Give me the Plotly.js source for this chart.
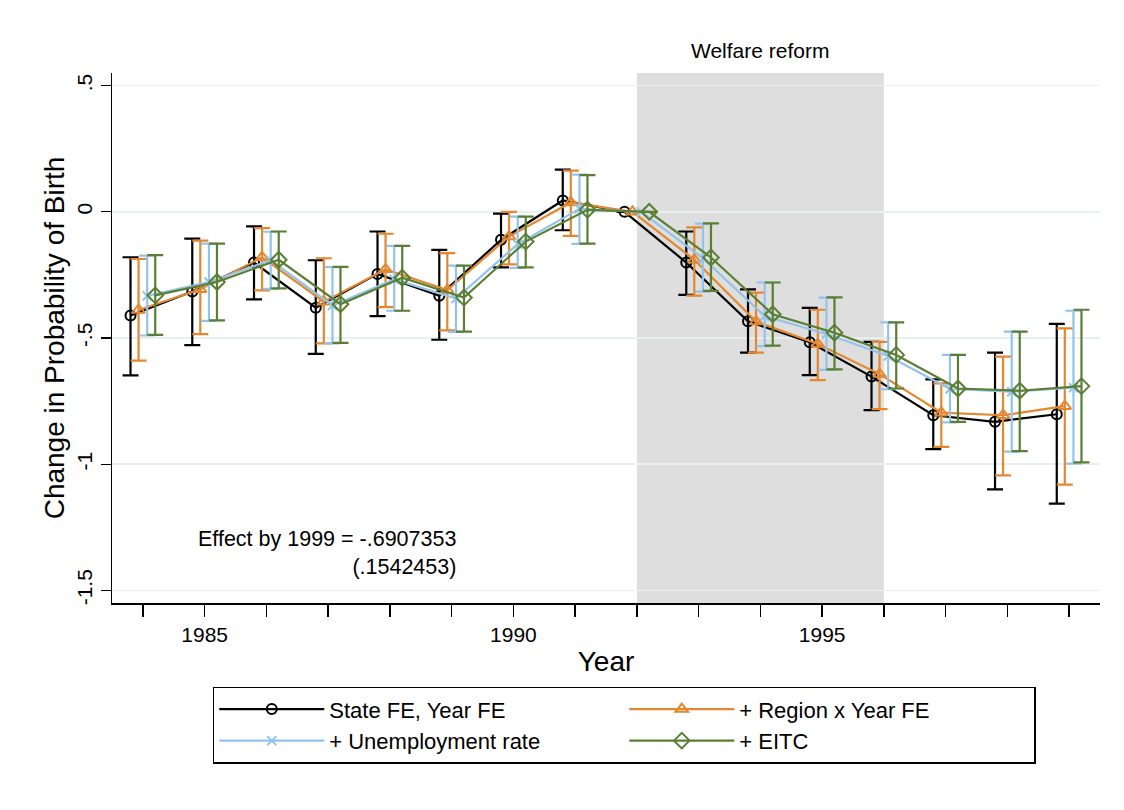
<!DOCTYPE html>
<html>
<head>
<meta charset="utf-8">
<script src="https://cdn.plot.ly/plotly-3.0.1.min.js"></script>
<style>
  html, body { margin: 0; padding: 0; background: #ffffff; }
  #chart { width: 1124px; height: 810px; }
</style>
</head>
<body>
<div id="chart"></div>
<script>
// ---- Data ----
const years = [1984, 1985, 1986, 1987, 1988, 1989, 1990, 1991, 1992, 1993, 1994, 1995, 1996, 1997, 1998, 1999];

const seriesNames = ["State FE, Year FE", "+ Region x Year FE", "+ Unemployment rate", "+ EITC"];

const stateFE     = [-0.411, -0.316, -0.201, -0.380, -0.246, -0.333, -0.111, 0.045, 0, -0.201, -0.434, -0.517, -0.653, -0.806, -0.832, -0.802];
const stateFE_lo  = [-0.648, -0.528, -0.347, -0.563, -0.413, -0.507, -0.220, -0.073, null, -0.329, -0.558, -0.647, -0.786, -0.940, -1.100, -1.156];
const stateFE_hi  = [-0.180, -0.106, -0.058, -0.192, -0.078, -0.151, -0.007, 0.167, null, -0.078, -0.307, -0.381, -0.515, -0.664, -0.558, -0.444];

const regionFE    = [-0.389, -0.307, -0.180, -0.356, -0.228, -0.310, -0.098, 0.037, 0, -0.190, -0.435, -0.524, -0.643, -0.796, -0.806, -0.770];
const regionFE_lo = [-0.590, -0.485, -0.311, -0.521, -0.378, -0.470, -0.208, -0.095, null, -0.332, -0.558, -0.667, -0.782, -0.931, -1.044, -1.081];
const regionFE_hi = [-0.187, -0.114, -0.065, -0.184, -0.087, -0.164, 0.000, 0.163, null, -0.062, -0.320, -0.388, -0.515, -0.680, -0.574, -0.462];

const unemp       = [-0.333, -0.278, -0.192, -0.371, -0.268, -0.344, -0.128, 0.012, 0, -0.184, -0.413, -0.484, -0.571, -0.702, -0.713, -0.697];
const unemp_lo    = [-0.490, -0.432, -0.305, -0.521, -0.392, -0.476, -0.222, -0.127, null, -0.316, -0.532, -0.626, -0.703, -0.834, -0.950, -0.998];
const unemp_hi    = [-0.174, -0.126, -0.079, -0.219, -0.135, -0.213, -0.019, 0.147, null, -0.047, -0.280, -0.340, -0.438, -0.567, -0.475, -0.392];

const eitc        = [-0.331, -0.278, -0.190, -0.366, -0.261, -0.340, -0.118, 0.008, 0, -0.181, -0.406, -0.479, -0.567, -0.700, -0.709, -0.6907353];
const eitc_lo     = [-0.488, -0.430, -0.303, -0.519, -0.392, -0.475, -0.220, -0.126, null, -0.313, -0.530, -0.624, -0.700, -0.832, -0.948, -0.993];
const eitc_hi     = [-0.172, -0.126, -0.078, -0.218, -0.135, -0.213, -0.019, 0.145, null, -0.046, -0.280, -0.339, -0.438, -0.567, -0.475, -0.388];

const effect1999 = "-.6907353";
const se1999 = ".1542453";

const reformStart = 1992;
const reformEnd = 1996;

const yTickVals = [-1.5, -1, -0.5, 0, 0.5];
const yTickText = ["-1.5", "-1", "-.5", "0", ".5"];
const xLabeled = { 1985: "1985", 1990: "1990", 1995: "1995" };

// ---- Styling ----
const FONT = "Liberation Sans, Arial, Helvetica, sans-serif";
const offsets = [-0.2, -0.07, 0.07, 0.2];
const colors = ["#000000", "#E4872F", "#93C3EA", "#5A7E33"];
const symbols = ["circle-open", "triangle-up-open", "x-thin-open", "diamond-open"];
const sizes = [10, 11, 9, 12];

const values = [stateFE, regionFE, unemp, eitc];
const lows = [stateFE_lo, regionFE_lo, unemp_lo, eitc_lo];
const highs = [stateFE_hi, regionFE_hi, unemp_hi, eitc_hi];

const traces = values.map((vals, k) => ({
  type: "scatter",
  mode: "lines+markers",
  name: seriesNames[k],
  x: years.map(y => y + offsets[k]),
  y: vals,
  line: { color: colors[k], width: 2.2 },
  marker: { symbol: symbols[k], size: sizes[k], color: colors[k], line: { color: colors[k], width: 2 } },
  error_y: {
    type: "data",
    symmetric: false,
    array: vals.map((v, i) => highs[k][i] == null ? null : highs[k][i] - v),
    arrayminus: vals.map((v, i) => lows[k][i] == null ? null : v - lows[k][i]),
    color: colors[k],
    thickness: 2.2,
    width: 8
  },
  hoverinfo: "x+y"
}));

const layout = {
  width: 1124,
  height: 810,
  paper_bgcolor: "#ffffff",
  plot_bgcolor: "#ffffff",
  font: { family: FONT, color: "#000000", size: 21 },
  margin: { l: 112, r: 24, t: 73, b: 207, autoexpand: false },
  showlegend: true,
  xaxis: {
    range: [1983.5, 1999.5],
    tickvals: years,
    ticktext: years.map(y => xLabeled[y] || ""),
    ticks: "outside",
    ticklen: 12,
    tickwidth: 1.3,
    tickcolor: "#000000",
    showline: true,
    linecolor: "#000000",
    linewidth: 1.5,
    showgrid: false,
    zeroline: false,
    tickfont: { family: FONT, size: 21, color: "#000000" },
    title: { text: "Year", font: { family: FONT, size: 28, color: "#000000" }, standoff: 6 },
    fixedrange: true
  },
  yaxis: {
    range: [-1.55, 0.55],
    tickvals: yTickVals,
    ticktext: yTickText,
    tickangle: -90,
    ticks: "outside",
    ticklen: 10,
    tickwidth: 1.3,
    tickcolor: "#000000",
    showline: true,
    linecolor: "#000000",
    linewidth: 1.5,
    showgrid: true,
    gridcolor: "#E8EFF1",
    gridwidth: 1.5,
    zeroline: false,
    tickfont: { family: FONT, size: 21, color: "#000000" },
    title: { text: "Change in Probability of Birth", font: { family: FONT, size: 28, color: "#000000" }, standoff: 0 },
    fixedrange: true
  },
  shapes: [{
    type: "rect",
    xref: "x", yref: "paper",
    x0: reformStart, x1: reformEnd, y0: 0, y1: 1,
    fillcolor: "#DEDEDE",
    line: { width: 0 },
    layer: "between"
  }],
  annotations: [
    {
      xref: "x", yref: "paper",
      x: (reformStart + reformEnd) / 2, y: 1,
      xanchor: "center", yanchor: "bottom", yshift: 9,
      text: "Welfare reform",
      showarrow: false,
      font: { family: FONT, size: 21, color: "#000000" }
    },
    {
      xref: "paper", yref: "paper",
      x: 0.350, y: 0.095,
      xanchor: "right", yanchor: "middle",
      align: "right",
      text: "Effect by 1999 = " + effect1999 + "<br>(" + se1999 + ")",
      showarrow: false,
      font: { family: FONT, size: 21.5, color: "#000000" }
    }
  ],
  legend: {
    orientation: "h",
    x: 0.102, xanchor: "left",
    y: -0.158, yanchor: "top",
    bordercolor: "#000000",
    borderwidth: 1.5,
    bgcolor: "#ffffff",
    font: { family: FONT, size: 22, color: "#000000" },
    itemwidth: 105,
    entrywidth: 290,
    entrywidthmode: "pixels",
    traceorder: "normal"
  }
};

Plotly.newPlot("chart", traces, layout, { staticPlot: true, displayModeBar: false });
</script>
</body>
</html>
